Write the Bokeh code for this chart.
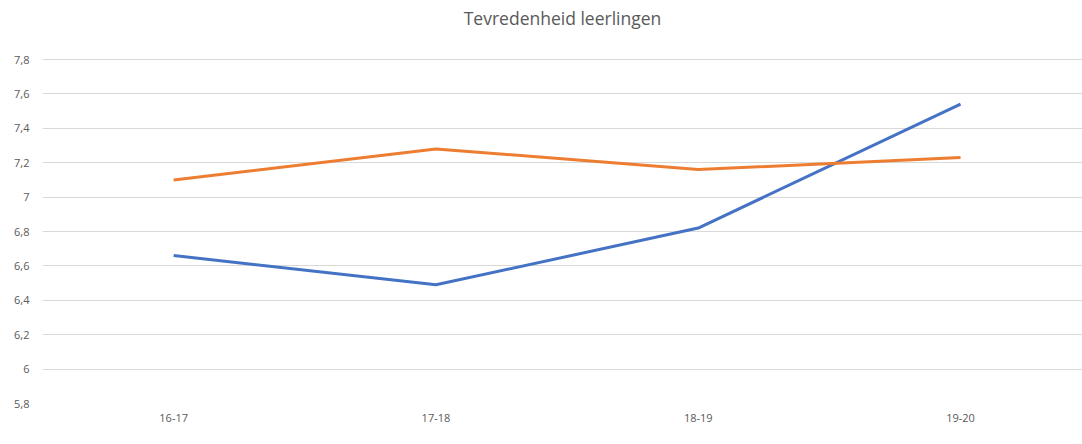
from bokeh.plotting import figure
from bokeh.models import Range1d, FixedTicker, Legend, LegendItem, CustomJSTickFormatter
from bokeh.embed import file_html
from bokeh.resources import INLINE

years = ["16-17", "17-18", "18-19", "19-20"]
kl = [6.66, 6.49, 6.82, 7.54]
bm = [7.10, 7.28, 7.16, 7.23]
y_ticks = [5.8, 6.0, 6.2, 6.4, 6.6, 6.8, 7.0, 7.2, 7.4, 7.6, 7.8]

FONT = "Open Sans"
GREY = "#595959"

xs = list(range(len(years)))

p = figure(frame_width=1040, frame_height=371, output_backend="svg", toolbar_location=None,
           x_range=Range1d(-0.5, 3.465), y_range=Range1d(5.8, 7.957),
           min_border_left=42, min_border_right=0, min_border_top=32, min_border_bottom=0,
           title="Tevredenheid leerlingen")
p.title.align = "center"
p.title.text_font = FONT
p.title.text_font_size = "17.5px"
p.title.text_font_style = "normal"
p.title.text_color = GREY
p.title.offset = 0
p.title.standoff = 5
p.outline_line_color = None

r_kl = p.line(xs, kl, line_color="#4472C4", line_width=3)
r_bm = p.line(xs, bm, line_color="#ED7D31", line_width=3)

p.xaxis.ticker = FixedTicker(ticks=xs)
p.xaxis.major_label_overrides = {i: y for i, y in enumerate(years)}
p.yaxis.ticker = FixedTicker(ticks=y_ticks)
p.yaxis.formatter = CustomJSTickFormatter(code="""
let s = (Math.round(tick*10)/10).toString();
return s.replace('.', ',');
""")
for ax in (p.xaxis[0], p.yaxis[0]):
    ax.axis_line_color = None
    ax.major_tick_line_color = None
    ax.minor_tick_line_color = None
    ax.major_tick_out = 0
    ax.major_tick_in = 0
    ax.minor_tick_out = 0
    ax.minor_tick_in = 0
    ax.major_label_text_font = FONT
    ax.major_label_text_font_size = "11px"
    ax.major_label_text_color = GREY
p.xaxis.major_label_standoff = 10
p.yaxis.major_label_standoff = 13

p.xgrid.grid_line_color = None
p.ygrid.grid_line_color = "#D9D9D9"
p.ygrid.grid_line_width = 1

legend = Legend(items=[LegendItem(label="KL", renderers=[r_kl]),
                       LegendItem(label="BM", renderers=[r_bm])],
                orientation="horizontal", location="top_center",
                border_line_color=None, background_fill_alpha=0,
                label_text_font=FONT, label_text_font_size="11px", label_text_color=GREY,
                glyph_width=30, glyph_height=8, label_standoff=2, spacing=8,
                padding=0, margin=0, label_height=10)
p.add_layout(legend, "below")

open("out.html", "w").write(file_html(p, INLINE))
